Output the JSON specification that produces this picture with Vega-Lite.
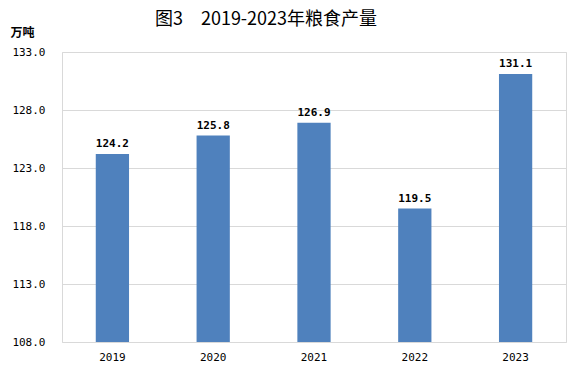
{
  "$schema": "https://vega.github.io/schema/vega-lite/v6.json",
  "autosize": "none",
  "width": 504,
  "height": 290,
  "padding": {"left": 62, "top": 52, "right": 16, "bottom": 36},
  "background": "white",
  "title": {
    "text": "图3　2019-2023年粮食产量",
    "font": "Noto Sans CJK SC",
    "fontSize": 18,
    "fontWeight": "normal",
    "color": "#000000",
    "anchor": "middle",
    "dx": -48,
    "dy": 25,
    "offset": 22
  },
  "config": {
    "view": {"stroke": "#d9d9d9", "strokeWidth": 1},
    "axis": {"domain": false, "ticks": false, "labelFont": "DejaVu Sans Mono", "labelFontSize": 11, "labelColor": "#000000"}
  },
  "data": {
    "values": [
      {"year": "2019", "value": 124.2},
      {"year": "2020", "value": 125.8},
      {"year": "2021", "value": 126.9},
      {"year": "2022", "value": 119.5},
      {"year": "2023", "value": 131.1}
    ]
  },
  "encoding": {
    "x": {
      "field": "year",
      "type": "ordinal",
      "scale": {"paddingInner": 0.67, "paddingOuter": 0.335},
      "axis": {"title": null, "labelAngle": 0, "labelPadding": 9, "grid": false}
    },
    "y": {
      "field": "value",
      "type": "quantitative",
      "scale": {"domain": [108, 133], "nice": false, "zero": false},
      "axis": {
        "values": [108, 113, 118, 123, 128, 133],
        "format": ".1f",
        "labelPadding": 17,
        "grid": true,
        "gridColor": "#d9d9d9",
        "gridWidth": 1,
        "title": "万吨",
        "titleFont": "Noto Sans CJK SC",
        "titleFontSize": 12,
        "titleFontWeight": "bold",
        "titleAngle": 0,
        "titleAlign": "left",
        "titleBaseline": "middle",
        "titleX": -52,
        "titleY": -20
      }
    }
  },
  "layer": [
    {"mark": {"type": "bar", "color": "#4F81BD", "clip": true}},
    {
      "mark": {"type": "text", "baseline": "bottom", "dy": -5, "font": "DejaVu Sans Mono", "fontSize": 11, "fontWeight": "bold", "color": "#000000"},
      "encoding": {"text": {"field": "value", "type": "quantitative", "format": ".1f"}}
    }
  ]
}
